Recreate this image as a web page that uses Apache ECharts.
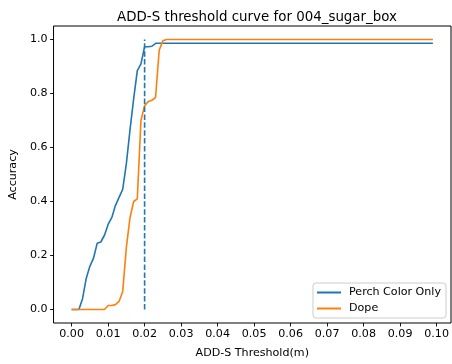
<!DOCTYPE html>
<html>
<head>
<meta charset="utf-8">
<script src="https://cdn.jsdelivr.net/npm/echarts@6/dist/echarts.min.js"></script>
<style>html,body{margin:0;padding:0;background:#fff;}#c{width:452px;height:364px;}</style>
</head>
<body>
<div id="c"></div>
<script>
const thresholds = [0.000,0.001,0.002,0.003,0.004,0.005,0.006,0.007,0.008,0.009,
0.010,0.011,0.012,0.013,0.014,0.015,0.016,0.017,0.018,0.019,
0.020,0.021,0.022,0.023,0.024,0.025,0.026,0.027,0.028,0.029,
0.030,0.031,0.032,0.033,0.034,0.035,0.036,0.037,0.038,0.039,
0.040,0.041,0.042,0.043,0.044,0.045,0.046,0.047,0.048,0.049,
0.050,0.051,0.052,0.053,0.054,0.055,0.056,0.057,0.058,0.059,
0.060,0.061,0.062,0.063,0.064,0.065,0.066,0.067,0.068,0.069,
0.070,0.071,0.072,0.073,0.074,0.075,0.076,0.077,0.078,0.079,
0.080,0.081,0.082,0.083,0.084,0.085,0.086,0.087,0.088,0.089,
0.090,0.091,0.092,0.093,0.094,0.095,0.096,0.097,0.098,0.099];

const perchAcc = [0,0,0,0.04,0.115,0.16,0.19,0.245,0.25,0.275,
0.315,0.34,0.385,0.415,0.445,0.54,0.665,0.78,0.885,0.91,
0.973,0.973,0.975,0.986,0.986,0.986,0.986,0.986,0.986,0.986,
0.986,0.986,0.986,0.986,0.986,0.986,0.986,0.986,0.986,0.986,
0.986,0.986,0.986,0.986,0.986,0.986,0.986,0.986,0.986,0.986,
0.986,0.986,0.986,0.986,0.986,0.986,0.986,0.986,0.986,0.986,
0.986,0.986,0.986,0.986,0.986,0.986,0.986,0.986,0.986,0.986,
0.986,0.986,0.986,0.986,0.986,0.986,0.986,0.986,0.986,0.986,
0.986,0.986,0.986,0.986,0.986,0.986,0.986,0.986,0.986,0.986,
0.986,0.986,0.986,0.986,0.986,0.986,0.986,0.986,0.986,0.986];

const dopeAcc = [0,0,0,0,0,0,0,0,0,0,
0.015,0.015,0.018,0.03,0.067,0.23,0.34,0.40,0.41,0.70,
0.755,0.77,0.775,0.785,0.96,0.995,1,1,1,1,
1,1,1,1,1,1,1,1,1,1,
1,1,1,1,1,1,1,1,1,1,
1,1,1,1,1,1,1,1,1,1,
1,1,1,1,1,1,1,1,1,1,
1,1,1,1,1,1,1,1,1,1,
1,1,1,1,1,1,1,1,1,1,
1,1,1,1,1,1,1,1,1,1];

const xTicks = [0,0.01,0.02,0.03,0.04,0.05,0.06,0.07,0.08,0.09,0.10];
const yTicks = [0,0.2,0.4,0.6,0.8,1.0];
const markerX = 0.02;
const markerY = [0, 1];
const seriesNames = ['Perch Color Only', 'Dope'];

const font = 'DejaVu Sans';
const chart = echarts.init(document.getElementById('c'), null, {renderer: 'canvas'});
chart.setOption({
  animation: false,
  backgroundColor: '#fff',
  textStyle: {fontFamily: font},
  title: {
    text: 'ADD-S threshold curve for 004_sugar_box',
    left: 252, top: 6, textAlign: 'center',
    textStyle: {fontFamily: font, fontSize: 13.4, fontWeight: 'normal', color: '#000'}
  },
  grid: {left: 53, right: 1, top: 26, bottom: 39, show: true, borderColor: '#000', borderWidth: 1, backgroundColor: 'transparent'},
  legend: {
    data: seriesNames,
    orient: 'vertical', right: 6, bottom: 46,
    icon: 'rect', itemWidth: 24, itemHeight: 2, itemGap: 5,
    padding: [4, 5, 4, 4],
    backgroundColor: 'rgba(255,255,255,0.8)', borderColor: '#cccccc', borderWidth: 1, borderRadius: 3,
    textStyle: {fontFamily: font, fontSize: 11.1, color: '#000', padding: [0, 0, 0, 3]}
  },
  xAxis: {
    type: 'value', min: -0.00495, max: 0.10395,
    name: 'ADD-S Threshold(m)', nameLocation: 'middle', nameGap: 25,
    nameTextStyle: {fontFamily: font, fontSize: 11.1, color: '#000'},
    axisLine: {show: false, onZero: false},
    splitLine: {show: false},
    axisTick: {show: true, customValues: xTicks, length: 3.5, lineStyle: {color: '#000', width: 0.9}},
    axisLabel: {customValues: xTicks, formatter: v => v.toFixed(2), fontFamily: font, fontSize: 11.1, color: '#000', margin: 6}
  },
  yAxis: {
    type: 'value', min: -0.05, max: 1.05,
    name: 'Accuracy', nameLocation: 'middle', nameGap: 30, nameRotate: 90,
    nameTextStyle: {fontFamily: font, fontSize: 11.1, color: '#000'},
    axisLine: {show: false, onZero: false},
    splitLine: {show: false},
    axisTick: {show: true, customValues: yTicks, length: 3.5, lineStyle: {color: '#000', width: 0.9}},
    axisLabel: {customValues: yTicks, formatter: v => v.toFixed(1), fontFamily: font, fontSize: 11.1, color: '#000', margin: 6}
  },
  series: [
    {
      name: seriesNames[0], type: 'line', showSymbol: false, symbol: 'none',
      data: thresholds.map((x, i) => [x, perchAcc[i]]),
      lineStyle: {color: '#1f77b4', width: 1.6}, itemStyle: {color: '#1f77b4'}, z: 3
    },
    {
      name: seriesNames[1], type: 'line', showSymbol: false, symbol: 'none',
      data: thresholds.map((x, i) => [x, dopeAcc[i]]),
      lineStyle: {color: '#ff7f0e', width: 1.6}, itemStyle: {color: '#ff7f0e'}, z: 4
    },
    {
      name: 'threshold', type: 'line', showSymbol: false, symbol: 'none',
      data: markerY.map(y => [markerX, y]),
      lineStyle: {color: '#1f77b4', width: 1.6, type: [5.5, 2.4]}, z: 5
    }
  ]
});
</script>
</body>
</html>
